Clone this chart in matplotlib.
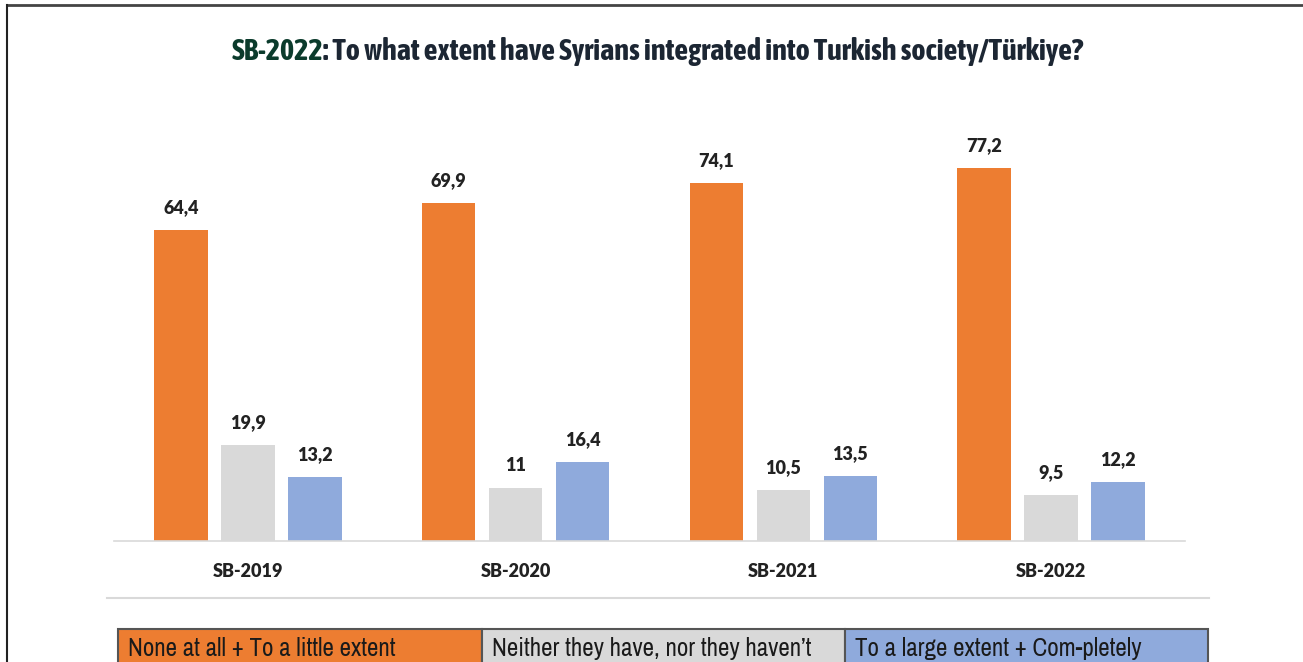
#!/usr/bin/env python3
# -*- coding: utf-8 -*-

import matplotlib
matplotlib.use('Agg')
import matplotlib.pyplot as plt
from matplotlib.patches import Rectangle
from matplotlib.lines import Line2D
from matplotlib import font_manager
import numpy as np

# survey waves and answer groups
years = ["SB-2019", "SB-2020", "SB-2021", "SB-2022"]
answers = ["None at all + To a little extent",
           "Neither they have, nor they haven’t",
           "To a large extent + Com-pletely"]

none_little = [64.4, 69.9, 74.1, 77.2]
neither = [19.9, 11, 10.5, 9.5]
large_complete = [13.2, 16.4, 13.5, 12.2]

colors = ["#ED7D31", "#D9D9D9", "#8FAADC"]

W, H = 1303, 662

# narrow families on this machine; the title wants one with a bold face
fonts = font_manager.fontManager.ttflist
narrow_fams = {}
for f in fonts:
    if "Condensed" in f.name or "Narrow" in f.name:
        narrow_fams.setdefault(f.name, set()).add(
            f.weight if isinstance(f.weight, int) else 400)
narrow = next(iter(sorted(narrow_fams)), "Roboto")
title_font = narrow
for name, weights in sorted(narrow_fams.items()):
    if any(w >= 600 for w in weights):
        title_font = name
        break
label_font = "Lato"


def fx(px):
    return px / W


def fy(py):
    return 1 - py / H


fig = plt.figure(figsize=(W / 100, H / 100), dpi=100)
fig.patch.set_facecolor("white")

# plot area: baseline at y=541, 4.83 px per percent
ax = fig.add_axes([fx(114), fy(541), fx(1185) - fx(114), (541 - 100) / H])
ax.set_xlim(-0.5, 3.5)
ax.set_ylim(0, 441 / 4.83)

x = np.arange(len(years))
series = [none_little, neither, large_complete]
offsets = [-0.25, 0, 0.25]
for vals, off, col in zip(series, offsets, colors):
    bars = ax.bar(x + off, vals, width=0.2, color=col, zorder=2)
    for b, v in zip(bars, vals):
        txt = ("%g" % v).replace(".", ",")
        ax.annotate(txt, (b.get_x() + b.get_width() / 2, v),
                    xytext=(0, 10), textcoords="offset points",
                    ha="center", va="bottom", fontsize=13,
                    fontweight="heavy", family=label_font, color="#222222")

for s in ["top", "right", "left"]:
    ax.spines[s].set_visible(False)
ax.spines["bottom"].set_color("#D9D9D9")
ax.spines["bottom"].set_linewidth(1.2)
ax.set_yticks([])
ax.set_xticks(x)
ax.set_xticklabels(years, fontsize=13, fontweight="heavy", family=label_font,
                   color="#222222")
ax.tick_params(axis="x", length=0, pad=16)

# title in two colours, sized to span about 855 px
title_y = fy(52)
t1 = fig.text(0, title_y, "SB-2022", fontsize=16, fontweight="bold",
              family=title_font, color="#0B3B2C", va="center")
t2 = fig.text(0, title_y, ": To what extent have Syrians integrated into Turkish society/Türkiye?",
              fontsize=16, fontweight="bold", family=title_font, color="#1C2633",
              va="center")
r = fig.canvas.get_renderer()
w = t1.get_window_extent(r).width + t2.get_window_extent(r).width
size = min(16 * 855 / w, 22)
t1.set_fontsize(size)
t2.set_fontsize(size)
w1 = t1.get_window_extent(r).width
w2 = t2.get_window_extent(r).width
start = 657 - (w1 + w2) / 2
t1.set_x(fx(start))
t2.set_x(fx(start + w1))

# separator line under the chart
fig.add_artist(Line2D([fx(107), fx(1209)], [fy(598), fy(598)],
                      color="#D9D9D9", lw=1.5))

# legend drawn as a row of coloured cells
cell_x = [118, 482, 845, 1208]
for i, (lab, col) in enumerate(zip(answers, colors)):
    x0, x1 = cell_x[i], cell_x[i + 1]
    fig.add_artist(Rectangle((fx(x0), fy(670)), fx(x1 - x0), (670 - 629) / H,
                             facecolor=col, edgecolor="#555555", lw=1.5,
                             transform=fig.transFigure))
    fig.text(fx(x0 + 10), fy(649), lab, fontsize=18, family=narrow,
             color="#1A1A1A", va="center", ha="left")

# page frame
fig.add_artist(Line2D([fx(7), fx(1303)], [fy(5), fy(5)], color="#444444", lw=2))
fig.add_artist(Line2D([fx(7), fx(7)], [fy(5), 0], color="#222222", lw=1.5))

fig.savefig("out.png", dpi=100, facecolor="white")
